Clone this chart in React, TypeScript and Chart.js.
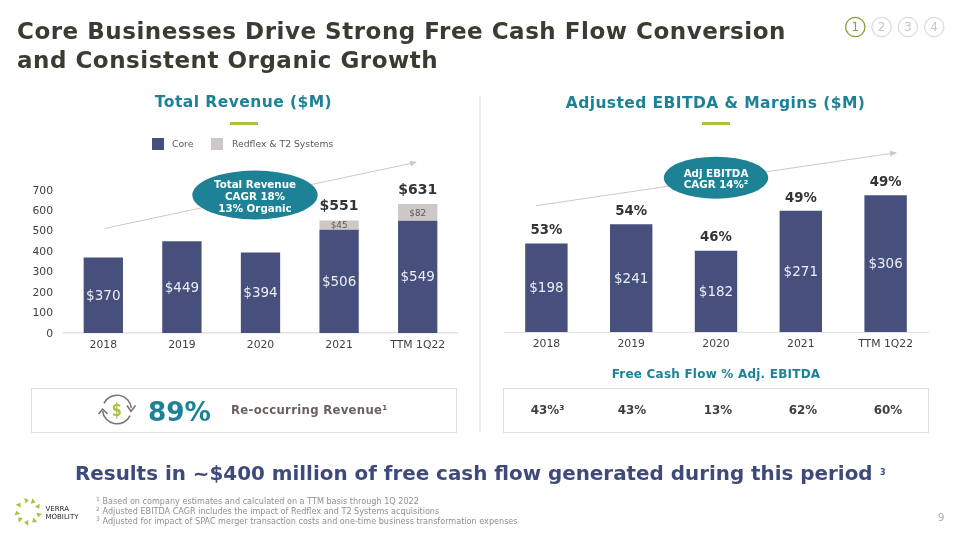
import React, { useEffect, useRef } from "react";
import { Chart, registerables } from "chart.js";

Chart.register(...registerables);

const categories = ["2018", "2019", "2020", "2021", "TTM 1Q22"];
const coreRevenue = [370, 449, 394, 506, 549];
const acquiredRevenue = [null, null, null, 45, 82];
const totalRevenue = [null, null, null, 551, 631];
const adjustedEbitda = [198, 241, 182, 271, 306];
const ebitdaMargins = ["53%", "54%", "46%", "49%", "49%"];
const freeCashFlow = ["43%", "43%", "13%", "62%", "60%"];
const revenueTicks = [0, 100, 200, 300, 400, 500, 600, 700];
const legendLabels = ["Core", "Redflex & T2 Systems"];
const footnotes = [
  "Based on company estimates and calculated on a TTM basis through 1Q 2022",
  "Adjusted EBITDA CAGR includes the impact of Redflex and T2 Systems acquisitions",
  "Adjusted for impact of SPAC merger transaction costs and one-time business transformation expenses",
];

const FONT = "'DejaVu Sans', Verdana, sans-serif";
const NAVY = "#474f7c";
const GREY = "#cdc8c5";
const TEAL = "#1e8296";
const GREEN = "#a9c23f";
const INK = "#404040";

function text(ctx: any, s: string, x: number, y: number, font: string, color: string) {
  ctx.font = font;
  ctx.fillStyle = color;
  ctx.textAlign = "center";
  ctx.textBaseline = "middle";
  ctx.fillText(s, x, y);
}

const revenueLabels = {
  id: "revenueLabels",
  afterDatasetsDraw(chart: any) {
    const ctx = chart.ctx;
    ctx.save();
    chart.getDatasetMeta(0).data.forEach((bar: any, i: number) => {
      text(ctx, "$" + coreRevenue[i], bar.x, (bar.y + bar.base) / 2 + 1, `13.5px ${FONT}`, "#eceef5");
    });
    chart.getDatasetMeta(1).data.forEach((bar: any, i: number) => {
      const v = acquiredRevenue[i];
      if (v == null) return;
      text(ctx, "$" + v, bar.x, (bar.y + bar.base) / 2 + 1, `8.8px ${FONT}`, "#595959");
      text(ctx, "$" + totalRevenue[i], bar.x, bar.y - 14, `bold 14px ${FONT}`, "#333333");
    });
    ctx.restore();
  },
};

const ebitdaLabels = {
  id: "ebitdaLabels",
  afterDatasetsDraw(chart: any) {
    const ctx = chart.ctx;
    ctx.save();
    chart.getDatasetMeta(0).data.forEach((bar: any, i: number) => {
      text(ctx, "$" + adjustedEbitda[i], bar.x, (bar.y + bar.base) / 2 + 1, `13.5px ${FONT}`, "#eceef5");
      text(ctx, ebitdaMargins[i], bar.x, bar.y - 12.8, `bold 13.3px ${FONT}`, "#333333");
    });
    ctx.restore();
  },
};

function xAxis(height: number, lineWidth: number) {
  return {
    stacked: true,
    grid: { display: false, drawTicks: false },
    border: { display: true, color: "#e3e3e3", width: lineWidth },
    ticks: { color: INK, font: { family: FONT, size: 10.8 }, padding: 6, maxRotation: 0, autoSkip: false },
    afterFit(scale: any) {
      scale.height = height;
    },
  };
}

function Label(p: { x: number; y: number; s: number; c: string; b?: boolean; a?: "l" | "c" | "r"; ls?: number; children: any }) {
  const tx = p.a === "c" ? "-50%" : p.a === "r" ? "-100%" : "0";
  return (
    <div
      style={{
        position: "absolute",
        left: p.x,
        top: p.y,
        transform: `translate(${tx}, -50%)`,
        fontFamily: FONT,
        fontSize: p.s,
        fontWeight: p.b ? 700 : 400,
        color: p.c,
        letterSpacing: p.ls ?? 0,
        whiteSpace: "nowrap",
        lineHeight: 1,
      }}
    >
      {p.children}
    </div>
  );
}

const logoAngles = [-100, -65, -28, 15, 55, 95, 135, 170, 215];

export default function App() {
  const leftRef = useRef<HTMLCanvasElement>(null);
  const rightRef = useRef<HTMLCanvasElement>(null);

  useEffect(() => {
    const left = new Chart(leftRef.current!, {
      type: "bar",
      data: {
        labels: categories,
        datasets: [
          { label: legendLabels[0], data: coreRevenue, backgroundColor: NAVY, categoryPercentage: 0.5, barPercentage: 1 },
          { label: legendLabels[1], data: acquiredRevenue as any, backgroundColor: GREY, categoryPercentage: 0.5, barPercentage: 1 },
        ],
      },
      options: {
        animation: false,
        responsive: false,
        layout: { padding: { top: 20, right: 23, left: 0, bottom: 0 } },
        plugins: { legend: { display: false }, tooltip: { enabled: false } },
        scales: {
          x: xAxis(27, 1.5) as any,
          y: {
            stacked: true,
            min: 0,
            max: 700,
            grid: { display: false, drawTicks: false },
            border: { display: false },
            afterBuildTicks(scale: any) {
              scale.ticks = revenueTicks.map((value) => ({ value }));
            },
            ticks: { color: INK, font: { family: FONT, size: 10.8 }, padding: 11, labelOffset: 0.8 },
            afterFit(scale: any) {
              scale.width = 64;
            },
          },
        },
      },
      plugins: [revenueLabels],
    });

    const right = new Chart(rightRef.current!, {
      type: "bar",
      data: {
        labels: categories,
        datasets: [
          { label: "Adjusted EBITDA", data: adjustedEbitda, backgroundColor: NAVY, categoryPercentage: 0.5, barPercentage: 1 },
        ],
      },
      options: {
        animation: false,
        responsive: false,
        layout: { padding: { top: 23.2, right: 32, left: 24, bottom: 0 } },
        plugins: { legend: { display: false }, tooltip: { enabled: false } },
        scales: {
          x: xAxis(28, 1) as any,
          y: { display: false, min: 0, max: 400 },
        },
      },
      plugins: [ebitdaLabels],
    });

    return () => {
      left.destroy();
      right.destroy();
    };
  }, []);

  return (
    <div style={{ position: "fixed", left: 0, top: 0, width: 960, height: 540, background: "#fff", overflow: "hidden" }}>
      <canvas ref={leftRef} width={480} height={190} style={{ position: "absolute", left: 0, top: 170, width: 480, height: 190 }} />
      <canvas ref={rightRef} width={480} height={230} style={{ position: "absolute", left: 480, top: 130, width: 480, height: 230 }} />

      <svg width={960} height={540} style={{ position: "absolute", left: 0, top: 0 }}>
        <defs>
          <marker id="arrow" markerWidth="7" markerHeight="6" refX="6" refY="3" orient="auto" markerUnits="userSpaceOnUse">
            <path d="M0,0 L7,3 L0,6 Z" fill={GREY} />
          </marker>
        </defs>
        <line x1={480} y1={96} x2={480} y2={433} stroke="#dedede" />
        <rect x={230} y={122} width={28} height={3} fill={GREEN} />
        <rect x={702} y={122} width={28} height={3} fill={GREEN} />
        <line x1={104.5} y1={228.5} x2={416} y2={162.3} stroke={GREY} strokeWidth={1} markerEnd="url(#arrow)" />
        <line x1={536} y1={205.7} x2={896} y2={152.7} stroke={GREY} strokeWidth={1} markerEnd="url(#arrow)" />
        <ellipse cx={255} cy={195} rx={62.7} ry={24.4} fill={TEAL} />
        <ellipse cx={716} cy={177.7} rx={52.2} ry={21} fill={TEAL} />
        <rect x={31.5} y={388.5} width={425} height={44} fill="none" stroke="#dfdfdf" />
        <rect x={503.5} y={388.5} width={425} height={44} fill="none" stroke="#dfdfdf" />
        <rect x={152} y={138} width={12} height={12} fill={NAVY} />
        <rect x={211} y={138} width={12} height={12} fill={GREY} />
        {[0, 1, 2, 3].map((i) => (
          <circle key={i} cx={855.3 + i * 26.3} cy={27} r={9.7} fill="none" stroke={i === 0 ? "#8f9c3c" : "#dcdcdc"} strokeWidth={i === 0 ? 1.3 : 1.2} />
        ))}
        <path d="M103.9,403.4 A14.5,14.5 0 0 1 131.4,408.2" fill="none" stroke="#7b706b" strokeWidth={1.5} />
        <path d="M102.6,410.8 A14.5,14.5 0 0 0 130.1,415.6" fill="none" stroke="#7b706b" strokeWidth={1.5} />
        <path d="M127,405.5 L131,411.5 L135.5,405.5" fill="none" stroke="#7b706b" strokeWidth={1.5} />
        <path d="M98.5,414 L102.7,409 L107.5,414" fill="none" stroke="#7b706b" strokeWidth={1.5} />
        <text transform="translate(116.8,416) scale(0.8,1)" textAnchor="middle" fontFamily={FONT} fontWeight={700} fontSize={18} fill={GREEN}>$</text>
        {logoAngles.map((a) => {
          const r = (a * Math.PI) / 180;
          const cx = 28 + Math.cos(r) * 11;
          const cy = 511.5 + Math.sin(r) * 11;
          return <path key={a} d={`M${cx - 3},${cy} L${cx + 2.4},${cy - 2.4} L${cx + 1.2},${cy + 2.6} Z`} fill={GREEN} transform={`rotate(${a + 20} ${cx} ${cy})`} />;
        })}
      </svg>

      <Label x={17} y={31} s={23} ls={0.52} c="#3b3b32" b>Core Businesses Drive Strong Free Cash Flow Conversion</Label>
      <Label x={17} y={60} s={23} ls={0.52} c="#3b3b32" b>and Consistent Organic Growth</Label>
      {[0, 1, 2, 3].map((i) => (
        <Label key={i} x={855.3 + i * 26.3} y={27} s={12} c={i === 0 ? "#8f9c3c" : "#c6c6c6"} a="c">{i + 1}</Label>
      ))}

      <Label x={243.5} y={103} s={15.5} ls={0.45} c={TEAL} b a="c">Total Revenue ($M)</Label>
      <Label x={715.5} y={104} s={15.5} ls={0.42} c={TEAL} b a="c">Adjusted EBITDA &amp; Margins ($M)</Label>

      <Label x={172} y={144} s={9.25} c="#595959">{legendLabels[0]}</Label>
      <Label x={232} y={144} s={9.25} c="#595959">{legendLabels[1]}</Label>

      <Label x={255} y={184} s={10.3} c="#ffffff" b a="c">Total Revenue</Label>
      <Label x={255} y={195.5} s={10.3} c="#ffffff" b a="c">CAGR 18%</Label>
      <Label x={255} y={207.5} s={10.3} c="#ffffff" b a="c">13% Organic</Label>
      <Label x={716} y={172.5} s={10.3} c="#ffffff" b a="c">Adj EBITDA</Label>
      <Label x={716} y={184} s={10.3} c="#ffffff" b a="c">CAGR 14%²</Label>

      <Label x={716} y={374} s={12} ls={0.22} c={TEAL} b a="c">Free Cash Flow % Adj. EBITDA</Label>
      {freeCashFlow.map((v, i) => (
        <Label key={i} x={[547.5, 632, 718, 803, 888][i]} y={411} s={11.9} c={INK} b a="c">
          {v}
          {i === 0 ? "³" : ""}
        </Label>
      ))}

      <Label x={148} y={411.5} s={26.3} c={TEAL} b>89%</Label>
      <Label x={231} y={411} s={11.7} ls={0.3} c="#6b615c" b>Re-occurring Revenue¹</Label>

      <Label x={75} y={474} s={19.9} c="#3f4a7c" b>Results in ~$400 million of free cash flow generated during this period</Label>
      <Label x={880} y={473} s={8} c="#3f4a7c" b>3</Label>

      {footnotes.map((f, i) => (
        <React.Fragment key={i}>
          <Label x={96} y={499 + i * 10} s={6} c="#8f8f8f">{i + 1}</Label>
          <Label x={102.5} y={500.5 + i * 10} s={8.1} c="#8f8f8f">{f}</Label>
        </React.Fragment>
      ))}
      <Label x={45.5} y={509} s={7} c="#222222">VERRA</Label>
      <Label x={45.5} y={516.5} s={7} c="#222222">MOBILITY</Label>
      <Label x={938} y={518} s={10} c="#ababab">9</Label>
    </div>
  );
}
